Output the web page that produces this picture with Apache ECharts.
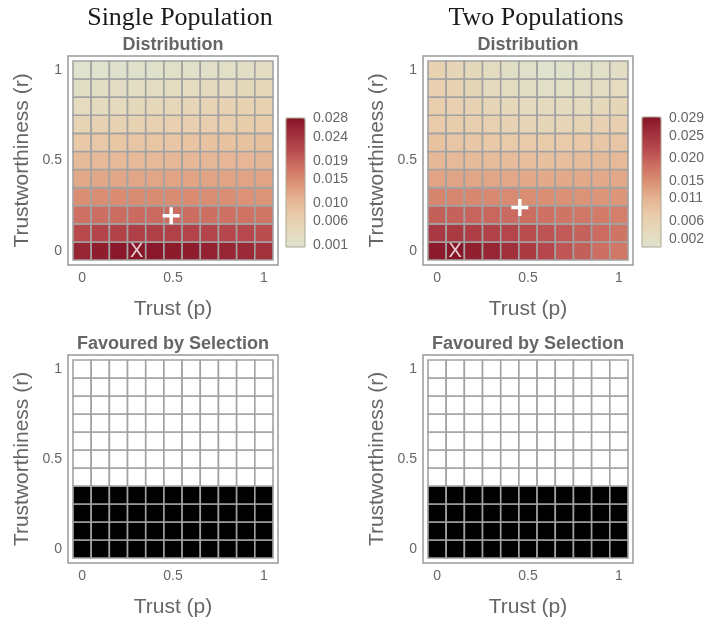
<!DOCTYPE html>
<html>
<head>
<meta charset="utf-8">
<script src="https://cdn.jsdelivr.net/npm/echarts@6/dist/echarts.min.js"></script>
<style>
html,body{margin:0;padding:0;background:#fff;}
#chart{width:709px;height:620px;}
</style>
</head>
<body>
<div id="chart"></div>
<script>
// ---- data ----
const trustP = [0, 0.1, 0.2, 0.3, 0.4, 0.5, 0.6, 0.7, 0.8, 0.9, 1];
const trustR = [0, 0.1, 0.2, 0.3, 0.4, 0.5, 0.6, 0.7, 0.8, 0.9, 1];

// rows indexed by trustworthiness r (0 -> 1), columns by trust p (0 -> 1)
const singleDist = [
  [0.0260, 0.0270, 0.0277, 0.0281, 0.0278, 0.0273, 0.0270, 0.0265, 0.0260, 0.0254, 0.0245],
  [0.0212, 0.0219, 0.0223, 0.0225, 0.0225, 0.0224, 0.0222, 0.0220, 0.0217, 0.0213, 0.0209],
  [0.0176, 0.0179, 0.0181, 0.0182, 0.0182, 0.0181, 0.0180, 0.0178, 0.0176, 0.0173, 0.0170],
  [0.0144, 0.0146, 0.0147, 0.0148, 0.0148, 0.0148, 0.0147, 0.0146, 0.0144, 0.0141, 0.0138],
  [0.0120, 0.0121, 0.0121, 0.0122, 0.0122, 0.0123, 0.0123, 0.0124, 0.0124, 0.0125, 0.0125],
  [0.0098, 0.0099, 0.0100, 0.0100, 0.0101, 0.0102, 0.0102, 0.0103, 0.0104, 0.0104, 0.0105],
  [0.0078, 0.0079, 0.0080, 0.0081, 0.0082, 0.0083, 0.0085, 0.0086, 0.0087, 0.0088, 0.0090],
  [0.0053, 0.0055, 0.0057, 0.0058, 0.0060, 0.0062, 0.0064, 0.0066, 0.0068, 0.0070, 0.0072],
  [0.0033, 0.0035, 0.0038, 0.0040, 0.0043, 0.0046, 0.0049, 0.0052, 0.0055, 0.0058, 0.0060],
  [0.0020, 0.0022, 0.0024, 0.0026, 0.0028, 0.0030, 0.0032, 0.0034, 0.0037, 0.0040, 0.0042],
  [0.0006, 0.0007, 0.0008, 0.0010, 0.0011, 0.0013, 0.0015, 0.0017, 0.0019, 0.0022, 0.0025]
];

const twoDist = [
  [0.0285, 0.0292, 0.0278, 0.0270, 0.0256, 0.0240, 0.0224, 0.0208, 0.0198, 0.0184, 0.0175],
  [0.0244, 0.0241, 0.0236, 0.0231, 0.0226, 0.0218, 0.0211, 0.0203, 0.0196, 0.0187, 0.0177],
  [0.0198, 0.0196, 0.0194, 0.0191, 0.0188, 0.0185, 0.0181, 0.0177, 0.0174, 0.0170, 0.0166],
  [0.0158, 0.0157, 0.0156, 0.0154, 0.0152, 0.0150, 0.0148, 0.0146, 0.0144, 0.0142, 0.0140],
  [0.0127, 0.0126, 0.0125, 0.0124, 0.0122, 0.0121, 0.0120, 0.0120, 0.0121, 0.0121, 0.0122],
  [0.0103, 0.0101, 0.0099, 0.0097, 0.0095, 0.0093, 0.0091, 0.0093, 0.0096, 0.0099, 0.0102],
  [0.0086, 0.0083, 0.0080, 0.0077, 0.0075, 0.0074, 0.0073, 0.0075, 0.0077, 0.0080, 0.0083],
  [0.0074, 0.0069, 0.0064, 0.0058, 0.0053, 0.0048, 0.0045, 0.0047, 0.0052, 0.0058, 0.0064],
  [0.0068, 0.0061, 0.0054, 0.0047, 0.0040, 0.0034, 0.0031, 0.0032, 0.0035, 0.0040, 0.0045],
  [0.0061, 0.0053, 0.0045, 0.0036, 0.0027, 0.0019, 0.0014, 0.0016, 0.0020, 0.0025, 0.0030],
  [0.0057, 0.0048, 0.0038, 0.0028, 0.0017, 0.0009, 0.0002, 0.0006, 0.0010, 0.0014, 0.0020]
];

// 1 = favoured by selection, per r row
const singleSelRows = [1, 1, 1, 1, 0, 0, 0, 0, 0, 0, 0];
const twoSelRows    = [1, 1, 1, 1, 0, 0, 0, 0, 0, 0, 0];

const singleMax  = [0.3, 0];
const singleMean = [0.49, 0.195];
const twoMax     = [0.1, 0];
const twoMean    = [0.455, 0.24];

const singleRange = [0.00057, 0.0281];
const twoRange    = [0.0002, 0.0292];
const singleTicks = [0.001, 0.006, 0.010, 0.015, 0.019, 0.024, 0.028];
const twoTicks    = [0.002, 0.006, 0.011, 0.015, 0.020, 0.025, 0.029];
const axisTicks   = [0, 0.5, 1];

const palette = ['#dfe2cd', '#e5d9bc', '#e9cba9', '#e5b393', '#da9074', '#cd6f63', '#b84a4e', '#a0303b', '#861628'];

// ---- build ----
function gridData(matrix) {
  const out = [];
  trustR.forEach((r, i) => trustP.forEach((p, j) => out.push([p, r, matrix[i][j]])));
  return out;
}
function selData(rows) {
  const out = [];
  trustR.forEach((r, i) => trustP.forEach((p) => out.push([p, r, rows[i]])));
  return out;
}
const HALF = (trustP[1] - trustP[0]) / 2;
function cellRender(params, api) {
  const p = api.value(0), r = api.value(1);
  const a = api.coord([p - HALF, r + HALF]);
  const b = api.coord([p + HALF, r - HALF]);
  return {
    type: 'rect',
    shape: { x: a[0], y: a[1], width: b[0] - a[0], height: b[1] - a[1] },
    style: { fill: api.visual('color'), stroke: '#a2a2a2', lineWidth: 1.6 }
  };
}

const SANS = "'Liberation Sans', Arial, Helvetica, sans-serif";
const GRAY = '#666';
const AX_MIN = -0.0775, AX_MAX = 1.0775;

const grids = [
  { left: 68, top: 56, width: 210, height: 209 },
  { left: 423, top: 56, width: 210, height: 209 },
  { left: 68, top: 355, width: 210, height: 208 },
  { left: 423, top: 355, width: 210, height: 208 },
  { left: 286, top: 118, width: 19, height: 129 },
  { left: 642, top: 117, width: 19, height: 130 }
].map((g, i) => Object.assign({
  show: true, borderColor: i < 4 ? '#9a9a9a' : '#a9a893', borderWidth: i < 4 ? 1.5 : 1,
  backgroundColor: 'transparent', containLabel: false, z: i < 4 ? 0 : 10
}, g));

function mainX(gi) {
  return {
    type: 'value', gridIndex: gi, min: AX_MIN, max: AX_MAX,
    name: 'Trust (p)', nameLocation: 'middle', nameGap: 34,
    nameTextStyle: { fontFamily: SANS, fontSize: 21, color: GRAY },
    axisLine: { show: false },
    axisTick: { show: true, inside: true, length: 4, customValues: axisTicks, lineStyle: { color: '#8a8a8a', width: 1 } },
    axisLabel: { customValues: axisTicks, margin: 6, fontFamily: SANS, fontSize: 14, color: GRAY },
    splitLine: { show: false }
  };
}
function mainY(gi) {
  return {
    type: 'value', gridIndex: gi, min: AX_MIN, max: AX_MAX,
    name: 'Trustworthiness (r)', nameLocation: 'middle', nameGap: 35, nameRotate: 90,
    nameTextStyle: { fontFamily: SANS, fontSize: 21, color: GRAY },
    axisLine: { show: false },
    axisTick: { show: true, inside: true, length: 4, customValues: axisTicks, lineStyle: { color: '#8a8a8a', width: 1 } },
    axisLabel: { customValues: axisTicks, margin: 6, fontFamily: SANS, fontSize: 14, color: GRAY },
    splitLine: { show: false }
  };
}
function barX(gi) {
  return { type: 'value', gridIndex: gi, show: false, min: 0, max: 1 };
}
function barY(gi, range, ticks) {
  return {
    type: 'value', gridIndex: gi, min: range[0], max: range[1], position: 'right',
    axisLine: { show: false },
    axisTick: { show: true, inside: false, length: 5, customValues: ticks, lineStyle: { color: '#8a8a8a', width: 1 } },
    axisLabel: { customValues: ticks, margin: 8, fontFamily: SANS, fontSize: 14, color: GRAY,
      formatter: (v) => v.toFixed(3) },
    splitLine: { show: false }
  };
}

function titleAt(text, x, y, style) {
  return { text, left: x, top: y, textAlign: 'center', textVerticalAlign: 'middle', padding: 0, textStyle: style };
}
const serifStyle = { fontFamily: "'Liberation Serif', 'Times New Roman', serif", fontSize: 26, fontWeight: 'normal', color: '#1a1a1a' };
const subStyle = { fontFamily: SANS, fontSize: 18, fontWeight: 'bold', color: GRAY };

function plusSeries(xi, pt) {
  return {
    type: 'scatter', xAxisIndex: xi, yAxisIndex: xi, data: [pt], z: 5,
    symbol: 'path://M6.4,0H9.6V16H6.4ZM0,6.4H16V9.6H0Z', symbolSize: 17,
    itemStyle: { color: '#fff', opacity: 1 }, silent: true
  };
}
function crossSeries(xi, pt) {
  return {
    type: 'scatter', xAxisIndex: xi, yAxisIndex: xi, data: [pt], z: 5,
    symbolSize: 1, itemStyle: { color: 'rgba(0,0,0,0)' }, silent: true,
    label: { show: true, position: 'inside', formatter: 'X', color: '#fff', fontFamily: SANS, fontSize: 20,
      textBorderWidth: 0, textBorderColor: 'transparent', offset: [0, 1] }
  };
}

const option = {
  animation: false,
  backgroundColor: '#fff',
  title: [
    titleAt('Single Population', 180, 18, serifStyle),
    titleAt('Two Populations', 536, 18, serifStyle),
    titleAt('Distribution', 173, 45, subStyle),
    titleAt('Distribution', 528, 45, subStyle),
    titleAt('Favoured by Selection', 173, 344, subStyle),
    titleAt('Favoured by Selection', 528, 344, subStyle)
  ],
  grid: grids,
  xAxis: [mainX(0), mainX(1), mainX(2), mainX(3), barX(4), barX(5)],
  yAxis: [mainY(0), mainY(1), mainY(2), mainY(3), barY(4, singleRange, singleTicks), barY(5, twoRange, twoTicks)],
  visualMap: [
    { type: 'continuous', seriesIndex: 0, dimension: 2, min: singleRange[0], max: singleRange[1],
      orient: 'vertical', left: 286, top: 118, itemWidth: 19, itemHeight: 129, calculable: false,
      padding: 0, hoverLink: false, inRange: { color: palette } },
    { type: 'continuous', seriesIndex: 1, dimension: 2, min: twoRange[0], max: twoRange[1],
      orient: 'vertical', left: 642, top: 117, itemWidth: 19, itemHeight: 130, calculable: false,
      padding: 0, hoverLink: false, inRange: { color: palette } },
    { type: 'piecewise', seriesIndex: [2, 3], dimension: 2, show: false,
      pieces: [{ value: 1, color: '#000000' }, { value: 0, color: '#ffffff' }] }
  ],
  series: [
    { type: 'custom', name: 'Single distribution', xAxisIndex: 0, yAxisIndex: 0, data: gridData(singleDist), renderItem: cellRender, encode: { x: 0, y: 1 } },
    { type: 'custom', name: 'Two distribution', xAxisIndex: 1, yAxisIndex: 1, data: gridData(twoDist), renderItem: cellRender, encode: { x: 0, y: 1 } },
    { type: 'custom', name: 'Single selection', xAxisIndex: 2, yAxisIndex: 2, data: selData(singleSelRows), renderItem: cellRender, encode: { x: 0, y: 1 } },
    { type: 'custom', name: 'Two selection', xAxisIndex: 3, yAxisIndex: 3, data: selData(twoSelRows), renderItem: cellRender, encode: { x: 0, y: 1 } },
    crossSeries(0, singleMax),
    plusSeries(0, singleMean),
    crossSeries(1, twoMax),
    plusSeries(1, twoMean)
  ]
};

const chart = echarts.init(document.getElementById('chart'), null, { renderer: 'canvas' });
chart.setOption(option);
</script>
</body>
</html>
